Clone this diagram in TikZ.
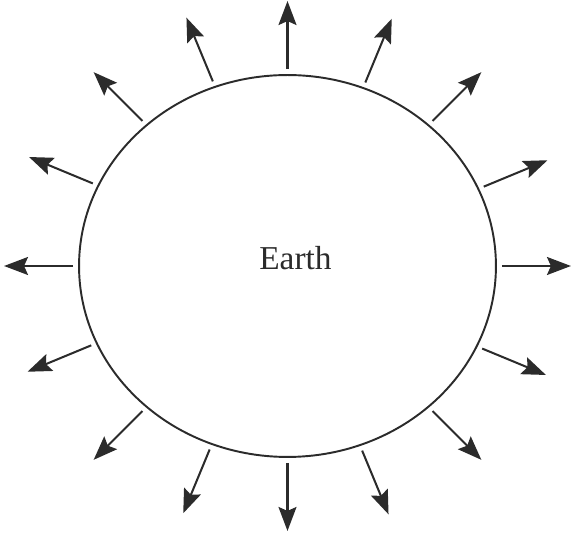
\documentclass[tikz,border=0pt]{standalone}
\usepackage{fontspec}
\setmainfont{Liberation Serif}
\usepackage{tikz}
\usetikzlibrary{arrows.meta, shapes.geometric, calc}
\definecolor{inkdark}{rgb}{0.17,0.17,0.17}

\begin{document}
\begin{tikzpicture}[
  x=0.02cm, y=0.02cm,
  planet/.style={
    draw=inkdark, ellipse, line width=1.1pt,
    minimum width=8.34cm, minimum height=7.64cm,
    inner sep=0pt, outer sep=0pt
  },
  ray/.style={
    -{Stealth[length=0.48cm, width=0.36cm, inset=0.08cm]},
    line width=1.15pt, inkdark, shorten <=0.12cm
  },
]
\useasboundingbox (-287.5,-267) rectangle (284.5,266);

%% ---- The planet ----
\node[planet] (earth) at (0,0) {};
\node[anchor=base, text=inkdark, font=\fontsize{19}{22}\selectfont]
  (earthname) at (8,-4) {Earth};

%% ---- Outward arrows, every 22.5 degrees ----
\draw[ray] (earth.0)     -- ($(earth.0)+(0:75)$)         coordinate (t0);
\draw[ray] (earth.22.5)  -- ($(earth.22.5)+(22.5:75)$)   coordinate (t1);
\draw[ray] (earth.45)    -- ($(earth.45)+(45:75)$)       coordinate (t2);
\draw[ray] (earth.67.5)  -- ($(earth.67.5)+(67.5:75)$)   coordinate (t3);
\draw[ray] (earth.90)    -- ($(earth.90)+(90:74)$)       coordinate (t4);
\draw[ray] (earth.112.5) -- ($(earth.112.5)+(112.5:75)$) coordinate (t5);
\draw[ray] (earth.135)   -- ($(earth.135)+(135:75)$)     coordinate (t6);
\draw[ray] (earth.157.5) -- ($(earth.157.5)+(157.5:75)$) coordinate (t7);
\draw[ray] (earth.180)   -- ($(earth.180)+(180:75)$)     coordinate (t8);
\draw[ray] (earth.202.5) -- ($(earth.202.5)+(202.5:75)$) coordinate (t9);
\draw[ray] (earth.225)   -- ($(earth.225)+(225:75)$)     coordinate (t10);
\draw[ray] (earth.247.5) -- ($(earth.247.5)+(247.5:75)$) coordinate (t11);
\draw[ray] (earth.270)   -- ($(earth.270)+(270:74)$)     coordinate (t12);
\draw[ray] (earth.292.5) -- ($(earth.292.5)+(292.5:75)$) coordinate (t13);
\draw[ray] (earth.315)   -- ($(earth.315)+(315:75)$)     coordinate (t14);
\draw[ray] (earth.337.5) -- ($(earth.337.5)+(337.5:75)$) coordinate (t15);

\end{tikzpicture}
\end{document}
